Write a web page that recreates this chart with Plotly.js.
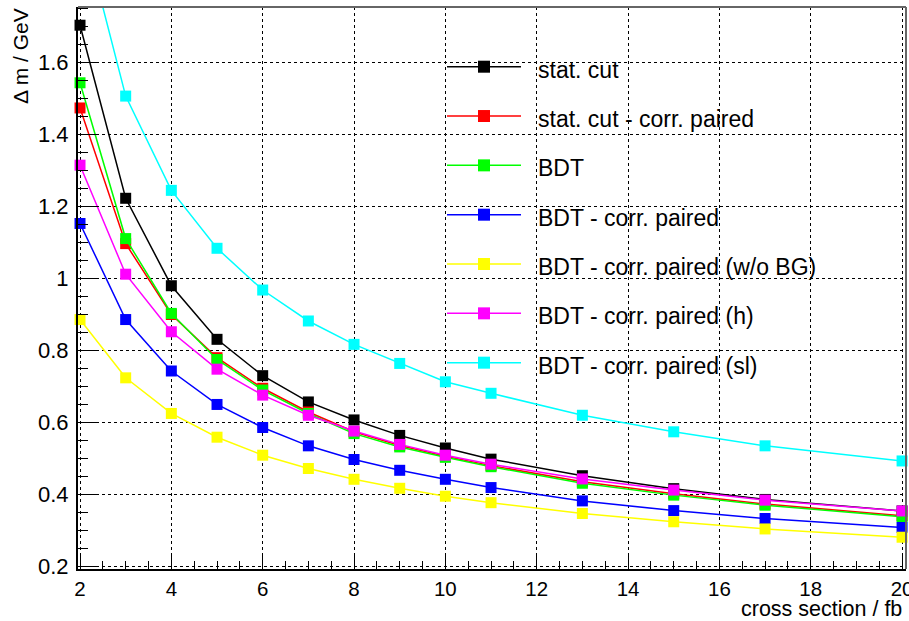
<!DOCTYPE html>
<html><head><meta charset="utf-8">
<script src="https://cdn.plot.ly/plotly-3.0.1.min.js"></script>
<style>html,body{margin:0;padding:0;background:#fff}#chart{width:909px;height:621px}</style>
</head><body><div id="chart"></div>
<script>
// x values: cross section / fb
const crossSection = [2, 3, 4, 5, 6, 7, 8, 9, 10, 11, 13, 15, 17, 20];
// Δm / GeV for each method
const statCut           = [1.703, 1.222, 0.979, 0.830, 0.729, 0.656, 0.606, 0.563, 0.528, 0.497, 0.451, 0.415, 0.385, 0.353];
const statCutCorrPaired = [1.473, 1.096, 0.899, 0.779, 0.694, 0.628, 0.573, 0.535, 0.505, 0.479, 0.434, 0.401, 0.372, 0.340];
const bdt               = [1.543, 1.110, 0.902, 0.774, 0.689, 0.624, 0.568, 0.531, 0.502, 0.476, 0.430, 0.397, 0.369, 0.337];
const bdtCorrPaired     = [1.152, 0.885, 0.742, 0.649, 0.585, 0.534, 0.496, 0.466, 0.441, 0.418, 0.381, 0.354, 0.332, 0.307];
const bdtCorrPairedNoBG = [0.885, 0.723, 0.624, 0.558, 0.508, 0.471, 0.441, 0.416, 0.394, 0.376, 0.346, 0.323, 0.303, 0.280];
const bdtCorrPairedH    = [1.314, 1.011, 0.851, 0.747, 0.675, 0.619, 0.575, 0.538, 0.508, 0.483, 0.442, 0.411, 0.383, 0.353];
const bdtCorrPairedSL   = [2.000, 1.506, 1.244, 1.083, 0.967, 0.881, 0.816, 0.763, 0.712, 0.680, 0.619, 0.573, 0.534, 0.492];

const seriesNames = ["stat. cut", "stat. cut - corr. paired", "BDT", "BDT - corr. paired",
                     "BDT - corr. paired (w/o BG)", "BDT - corr. paired (h)", "BDT - corr. paired (sl)"];
const seriesValues = [statCut, statCutCorrPaired, bdt, bdtCorrPaired, bdtCorrPairedNoBG, bdtCorrPairedH, bdtCorrPairedSL];
const seriesColors = ["#000000", "#ff0000", "#00ff00", "#0000ff", "#ffff00", "#ff00ff", "#00ffff"];

const xTitle = "cross section / fb";
const yTitle = "\u0394 m / GeV";

const FONT = "Liberation Sans, Arial, Helvetica, sans-serif";
const W = 909, H = 621;
const M = {l: 78, r: 3, t: 7, b: 52};
const PW = W - M.l - M.r, PH = H - M.t - M.b;
const px2x = p => (p - M.l) / PW;
const px2y = p => (H - M.b - p) / PH;

const traces = seriesValues.map((vals, i) => ({
  type: "scatter", mode: "lines+markers",
  x: crossSection, y: vals, name: seriesNames[i],
  line: {color: seriesColors[i], width: 1.5},
  marker: {symbol: "square", size: 11, color: seriesColors[i], line: {width: 0}},
  cliponaxis: false, showlegend: false, hoverinfo: "x+y+name"
}));

// custom ROOT-style legend
const shapes = [];
const annotations = [];
seriesNames.forEach((nm, i) => {
  const ly = 66.7 + i * 49.33;
  shapes.push({type: "line", xref: "paper", yref: "paper", x0: px2x(447), x1: px2x(521), y0: px2y(ly), y1: px2y(ly),
               line: {color: seriesColors[i], width: 1.5}});
  shapes.push({type: "rect", xref: "paper", yref: "paper", xsizemode: "pixel", ysizemode: "pixel",
               xanchor: px2x(484), yanchor: px2y(ly), x0: -6, x1: 6, y0: -6, y1: 6,
               fillcolor: seriesColors[i], line: {width: 0}});
  annotations.push({xref: "paper", yref: "paper", x: px2x(536), y: px2y(ly + 3), xanchor: "left", yanchor: "middle",
                    text: nm, showarrow: false, font: {family: FONT, size: 23, color: "#000"}});
});
// frame top / right
shapes.push({type: "line", xref: "paper", yref: "paper", x0: 0, x1: 1, y0: 1, y1: 1, line: {color: "#666", width: 2}});
shapes.push({type: "line", xref: "paper", yref: "paper", x0: 1, x1: 1, y0: 0, y1: 1, line: {color: "#666", width: 2}});

annotations.push({xref: "paper", yref: "paper", x: px2x(904), y: px2y(609), xanchor: "right", yanchor: "middle",
                  text: xTitle, showarrow: false, font: {family: FONT, size: 21.5, color: "#000"}});
annotations.push({xref: "paper", yref: "paper", x: px2x(21), y: px2y(6), xanchor: "center", yanchor: "top",
                  textangle: -90, text: yTitle, showarrow: false, font: {family: FONT, size: 21, color: "#000"}});

const layout = {
  width: W, height: H, margin: M,
  paper_bgcolor: "#fff", plot_bgcolor: "#fff",
  font: {family: FONT, size: 20, color: "#000"},
  showlegend: false,
  xaxis: {
    range: [1.956, 20.086], tick0: 0, dtick: 2, ticks: "inside", ticklen: 15, tickwidth: 1, tickcolor: "#000",
    showline: true, linecolor: "#000", linewidth: 2, mirror: false,
    showgrid: true, gridcolor: "#000", griddash: "dot", gridwidth: 1, zeroline: false,
    minor: {dtick: 0.5, ticks: "inside", ticklen: 8, tickcolor: "#000", showgrid: false},
    tickfont: {family: FONT, size: 20.5, color: "#000"}, ticklabelstandoff: 0, ticklabeloverflow: "allow"
  },
  yaxis: {
    range: [0.1917, 1.7536], tick0: 0, dtick: 0.2, ticks: "inside", ticklen: 20, tickwidth: 1, tickcolor: "#000",
    showline: true, linecolor: "#000", linewidth: 2, mirror: false,
    showgrid: true, gridcolor: "#000", griddash: "dot", gridwidth: 1, zeroline: false,
    minor: {dtick: 0.05, ticks: "inside", ticklen: 10, tickcolor: "#000", showgrid: false},
    tickfont: {family: FONT, size: 22, color: "#000"}, ticklabelstandoff: 3
  },
  shapes: shapes,
  annotations: annotations
};

Plotly.newPlot("chart", traces, layout, {displayModeBar: false, staticPlot: true});
</script>
</body></html>
